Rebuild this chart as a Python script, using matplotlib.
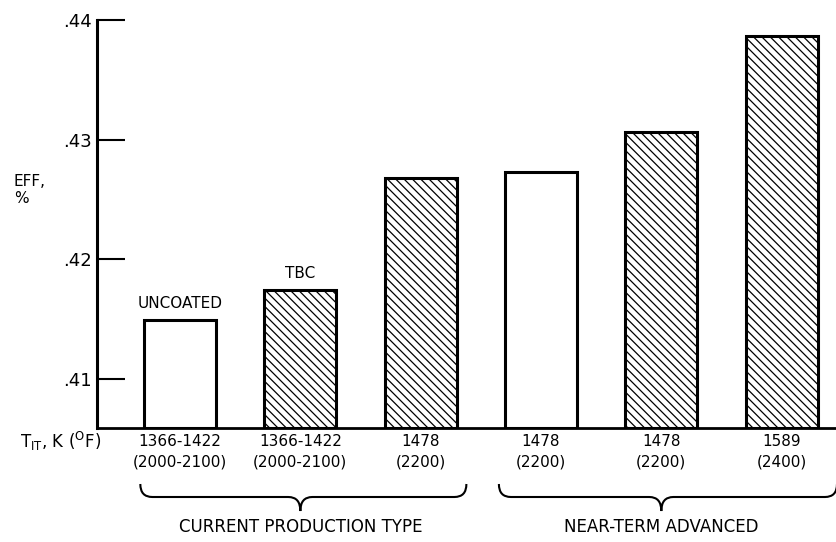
import matplotlib
matplotlib.use("Agg")
import matplotlib.pyplot as plt
from matplotlib.path import Path
from matplotlib.patches import PathPatch
from matplotlib.transforms import blended_transform_factory

plt.rcParams['font.family'] = ['Liberation Sans Narrow', 'DejaVu Sans']

categories = ["1366-1422\n(2000-2100)", "1366-1422\n(2000-2100)", "1478\n(2200)",
              "1478\n(2200)", "1478\n(2200)", "1589\n(2400)"]
values = [0.4149, 0.4174, 0.4268, 0.4273, 0.4306, 0.4387]
coated = [False, True, True, False, True, True]
yticks = [0.41, 0.42, 0.43, 0.44]
ytick_labels = [".41", ".42", ".43", ".44"]
groups = ["CURRENT PRODUCTION TYPE", "NEAR-TERM ADVANCED"]
group_members = [(0, 2), (3, 5)]
bar_notes = {0: "UNCOATED", 1: "TBC"}

fig = plt.figure(figsize=(8.37, 5.42), dpi=100)
ax = fig.add_axes([97/837, 114/542, 740/837, 408/542])

ymin = 0.4059
x = list(range(len(values)))
plt.rcParams['hatch.linewidth'] = 0.9
for xi, v, c in zip(x, values, coated):
    ax.bar(xi, v - ymin, bottom=ymin, width=0.6, facecolor='white',
           edgecolor='black', linewidth=2.2, hatch='\\\\\\\\' if c else None)

for i, t in bar_notes.items():
    ax.text(i, values[i] + 0.0008, t, ha='center', va='bottom', fontsize=11)

ax.set_xlim(-0.69, 5.46)
ax.set_ylim(ymin, 0.44)
ax.set_yticks(yticks)
ax.set_yticklabels(ytick_labels, fontsize=13)
ax.tick_params(axis='y', direction='in', length=20, width=1.5, pad=4)
ax.set_xticks(x)
ax.set_xticklabels(categories, fontsize=11, linespacing=1.5)
ax.tick_params(axis='x', length=0, pad=4)
for s in ['top', 'right']:
    ax.spines[s].set_visible(False)
ax.spines['left'].set_linewidth(2.2)
ax.spines['bottom'].set_linewidth(2.0)

fig.text(20/837, 1 - 441/542, r"T$_{\mathregular{IT}}$, K ($^{\mathregular{O}}$F)",
         fontsize=12, va='center', ha='left')
fig.text(14/837, 1 - 190/542, "EFF,\n%", fontsize=11, va='center', ha='left', linespacing=1.2)

# braces
trans = blended_transform_factory(ax.transData, fig.transFigure)
ytop = 1 - 484/542
ymid = 1 - 497/542
ybot = 1 - 511/542
brace_specs = [(-0.33, 2.38), (2.65, 5.46)]
for (a, b), name, (i0, i1) in zip(brace_specs, groups, group_members):
    xc = (values and (a + b) / 2)
    xc = (i0 + i1) / 2
    d = 0.1
    verts = [(a, ytop), (a, ymid), (a + d, ymid),
             (xc - d, ymid), (xc, ymid), (xc, ybot),
             (xc, ymid), (xc + d, ymid),
             (b - d, ymid), (b, ymid), (b, ytop)]
    codes = [Path.MOVETO, Path.CURVE3, Path.CURVE3,
             Path.LINETO, Path.CURVE3, Path.CURVE3,
             Path.CURVE3, Path.CURVE3,
             Path.LINETO, Path.CURVE3, Path.CURVE3]
    patch = PathPatch(Path(verts, codes), transform=trans, facecolor='none',
                      edgecolor='black', lw=1.5, clip_on=False)
    fig.add_artist(patch)
    fig.text(0, 1 - 527/542, name, transform=trans, fontsize=12, ha='center', va='center')
    fig.texts[-1].set_x(xc)

fig.savefig("out.png", dpi=100)
